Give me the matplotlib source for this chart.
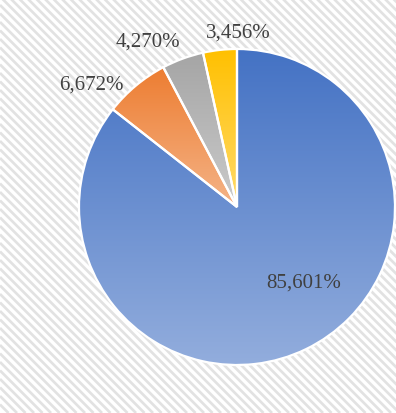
import numpy as np
import matplotlib
matplotlib.use("Agg")
import matplotlib.pyplot as plt
from matplotlib.colors import to_rgb

# data
labels = ["85,601%", "6,672%", "4,270%", "3,456%"]
values = [85.601, 6.672, 4.270, 3.456]
colors = ["#4472C4", "#ED7D31", "#A5A5A5", "#FFC000"]
# label centres in data units (pie radius = 1)
label_pos = [(0.424, -0.48), (-0.924, 0.772), (-0.563, 1.044), (0.006, 1.10)]

W, H = 396, 413
fig = plt.figure(figsize=(W / 100, H / 100), dpi=100)
fig.patch.set_facecolor("white")

# striped background (pixel units, "\\" direction)
bg = fig.add_axes([0, 0, 1, 1])
bg.set_xlim(0, W)
bg.set_ylim(0, H)
bg.axis("off")
for c in np.arange(0, W + H + 10, 8.5):
    bg.plot([0, c], [c, 0], color="#e2e2e2", lw=1.9, solid_capstyle="butt")

cx, cy, r = 237, 207, 158
ax = fig.add_axes([(cx - r) / W, (H - cy - r) / H, 2 * r / W, 2 * r / H])
ax.set_facecolor("none")

wedges, _ = ax.pie(values, startangle=90, counterclock=False, colors=colors,
                   wedgeprops=dict(edgecolor="white", linewidth=1.6))
ax.set_xlim(-1, 1)
ax.set_ylim(-1, 1)
ax.set_aspect("equal")
ax.axis("off")

fig.canvas.draw()
inv = ax.transData.inverted()
for w, c in zip(wedges, colors):
    ext = w.get_window_extent()
    (x0, y0), (x1, y1) = inv.transform([[ext.x0, ext.y0], [ext.x1, ext.y1]])
    top = np.array(to_rgb(c))
    bottom = top + (1 - top) * 0.42
    t = np.linspace(0, 1, 256)[:, None]
    grad = top[None, :] * (1 - t) + bottom[None, :] * t
    img = grad[:, None, :]
    im = ax.imshow(img, extent=(x0, x1, y0, y1), origin="upper",
                   aspect="auto", zorder=1, interpolation="bilinear")
    im.set_clip_path(w)
    w.set_facecolor("none")
    w.set_zorder(2)

ax.set_xlim(-1, 1)
ax.set_ylim(-1, 1)

for lab, (x, y) in zip(labels, label_pos):
    ax.text(x, y, lab, ha="center", va="center", fontsize=15,
            family="Liberation Serif", color="#404040", zorder=3)

fig.savefig("out.png", dpi=100)
